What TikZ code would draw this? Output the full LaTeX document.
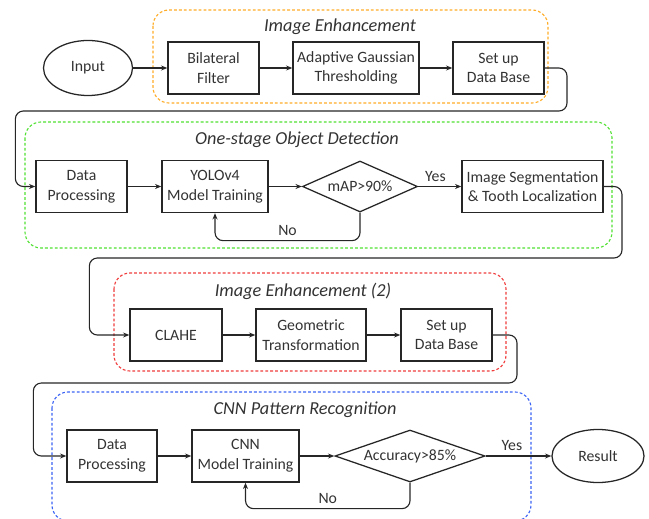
\documentclass[tikz,border=0pt]{standalone}
\usepackage{fontspec}
\setmainfont{Carlito}
\usetikzlibrary{shapes.geometric,arrows.meta}
\definecolor{stageorange}{RGB}{255,172,40}
\definecolor{stagegreen}{RGB}{80,225,50}
\definecolor{stagered}{RGB}{240,60,60}
\definecolor{stageblue}{RGB}{60,100,245}

\begin{document}
\begin{tikzpicture}[x=0.025cm,y=-0.025cm,
  font=\fontsize{11.2}{14}\selectfont,text=black!80,
  box/.style={draw=black!85,line width=0.9pt,align=center,minimum height=1.3cm,inner sep=2pt},
  decision/.style={diamond,draw=black!85,line width=0.9pt,inner sep=0pt},
  term/.style={ellipse,draw=black!85,line width=0.9pt,inner sep=0pt},
  stage/.style={dash pattern=on 2pt off 1.5pt,line width=0.8pt,rounded corners=0.4cm},
  stagetitle/.style={font=\fontsize{13}{15}\selectfont\itshape},
  arr/.style={-{Stealth[length=4.5pt,width=3.5pt]},draw=black!85,line width=0.8pt,rounded corners=0.2cm}]
\useasboundingbox (0,0) rectangle (649,518);
% Stages
\draw[stage,stageorange] (153,10) rectangle (548,103);
\draw[stage,stagegreen] (25,122) rectangle (612,248);
\draw[stage,stagered] (114,273) rectangle (506,371);
\draw[stage,stageblue] (52,392) rectangle (531,521);
\node[stagetitle] (titleA) at (340,27) {Image Enhancement};
\node[stagetitle] (titleB) at (297,140) {One-stage Object Detection};
\node[stagetitle] (titleC) at (303,291) {Image Enhancement (2)};
\node[stagetitle] (titleD) at (305,410) {CNN Pattern Recognition};
% Row 1
\node[term,minimum width=2.225cm,minimum height=1.375cm] (input) at (88,68) {Input};
\node[box,minimum width=2.275cm] (bilat) at (213.5,68) {Bilateral\\Filter};
\node[box,minimum width=3.15cm] (adapt) at (356,68) {Adaptive Gaussian\\Thresholding};
\node[box,minimum width=2.275cm] (setup) at (498.5,68) {Set up\\Data Base};
% Row 2
\node[box,minimum width=2.275cm] (proc) at (81.5,186.5) {Data\\Processing};
\node[box,minimum width=2.65cm] (yolo) at (215,186.5) {YOLOv4\\Model Training};
\node[decision,aspect=2.25,minimum width=2.875cm,minimum height=1.275cm] (mapd) at (360,186.5) {mAP>90\%};
\node[box,minimum width=3.525cm] (seg) at (532.5,186.5) {Image Segmentation\\\& Tooth Localization};
% Row 3
\node[box,minimum width=2.3cm] (clahe) at (176,335) {CLAHE};
\node[box,minimum width=2.75cm] (geo) at (311,335) {Geometric\\Transformation};
\node[box,minimum width=2.275cm] (setup2) at (446.5,335) {Set up\\Data Base};
% Row 4
\node[box,minimum width=2.25cm] (proc2) at (112,456) {Data\\Processing};
\node[box,minimum width=2.675cm] (cnn) at (245.5,456) {CNN\\Model Training};
\node[decision,aspect=2.9,minimum width=3.75cm,minimum height=1.3cm] (accd) at (410,456) {Accuracy>85\%};
\node[term,minimum width=2.3cm,minimum height=1.325cm] (result) at (598,456) {Result};
% Arrows
\draw[arr] (input) -- (bilat);
\draw[arr] (bilat) -- (adapt);
\draw[arr] (adapt) -- (setup);
\draw[arr] (setup.east) -| (567,111) -| ([xshift=-0.5cm]proc.west) -- (proc.west);
\draw[arr] (proc) -- (yolo);
\draw[arr] (yolo) -- (mapd);
\draw[arr] (mapd) -- node[above,pos=0.4] {Yes} (seg);
\draw[arr] (mapd.south) -- ++(0,28) -| node[above,pos=0.25] {No} (yolo.south);
\draw[arr] (seg.east) -| (622,258) -| ([xshift=-1cm]clahe.west) -- (clahe.west);
\draw[arr] (clahe) -- (geo);
\draw[arr] (geo) -- (setup2);
\draw[arr] (setup2.east) -| (517,383) -| ([xshift=-0.825cm]proc2.west) -- (proc2.west);
\draw[arr] (proc2) -- (cnn);
\draw[arr] (cnn) -- (accd);
\draw[arr] (accd) -- node[above,pos=0.4] {Yes} (result);
\draw[arr] (accd.south) -- ++(0,26) -| node[above,pos=0.25] {No} (cnn.south);
\end{tikzpicture}
\end{document}
